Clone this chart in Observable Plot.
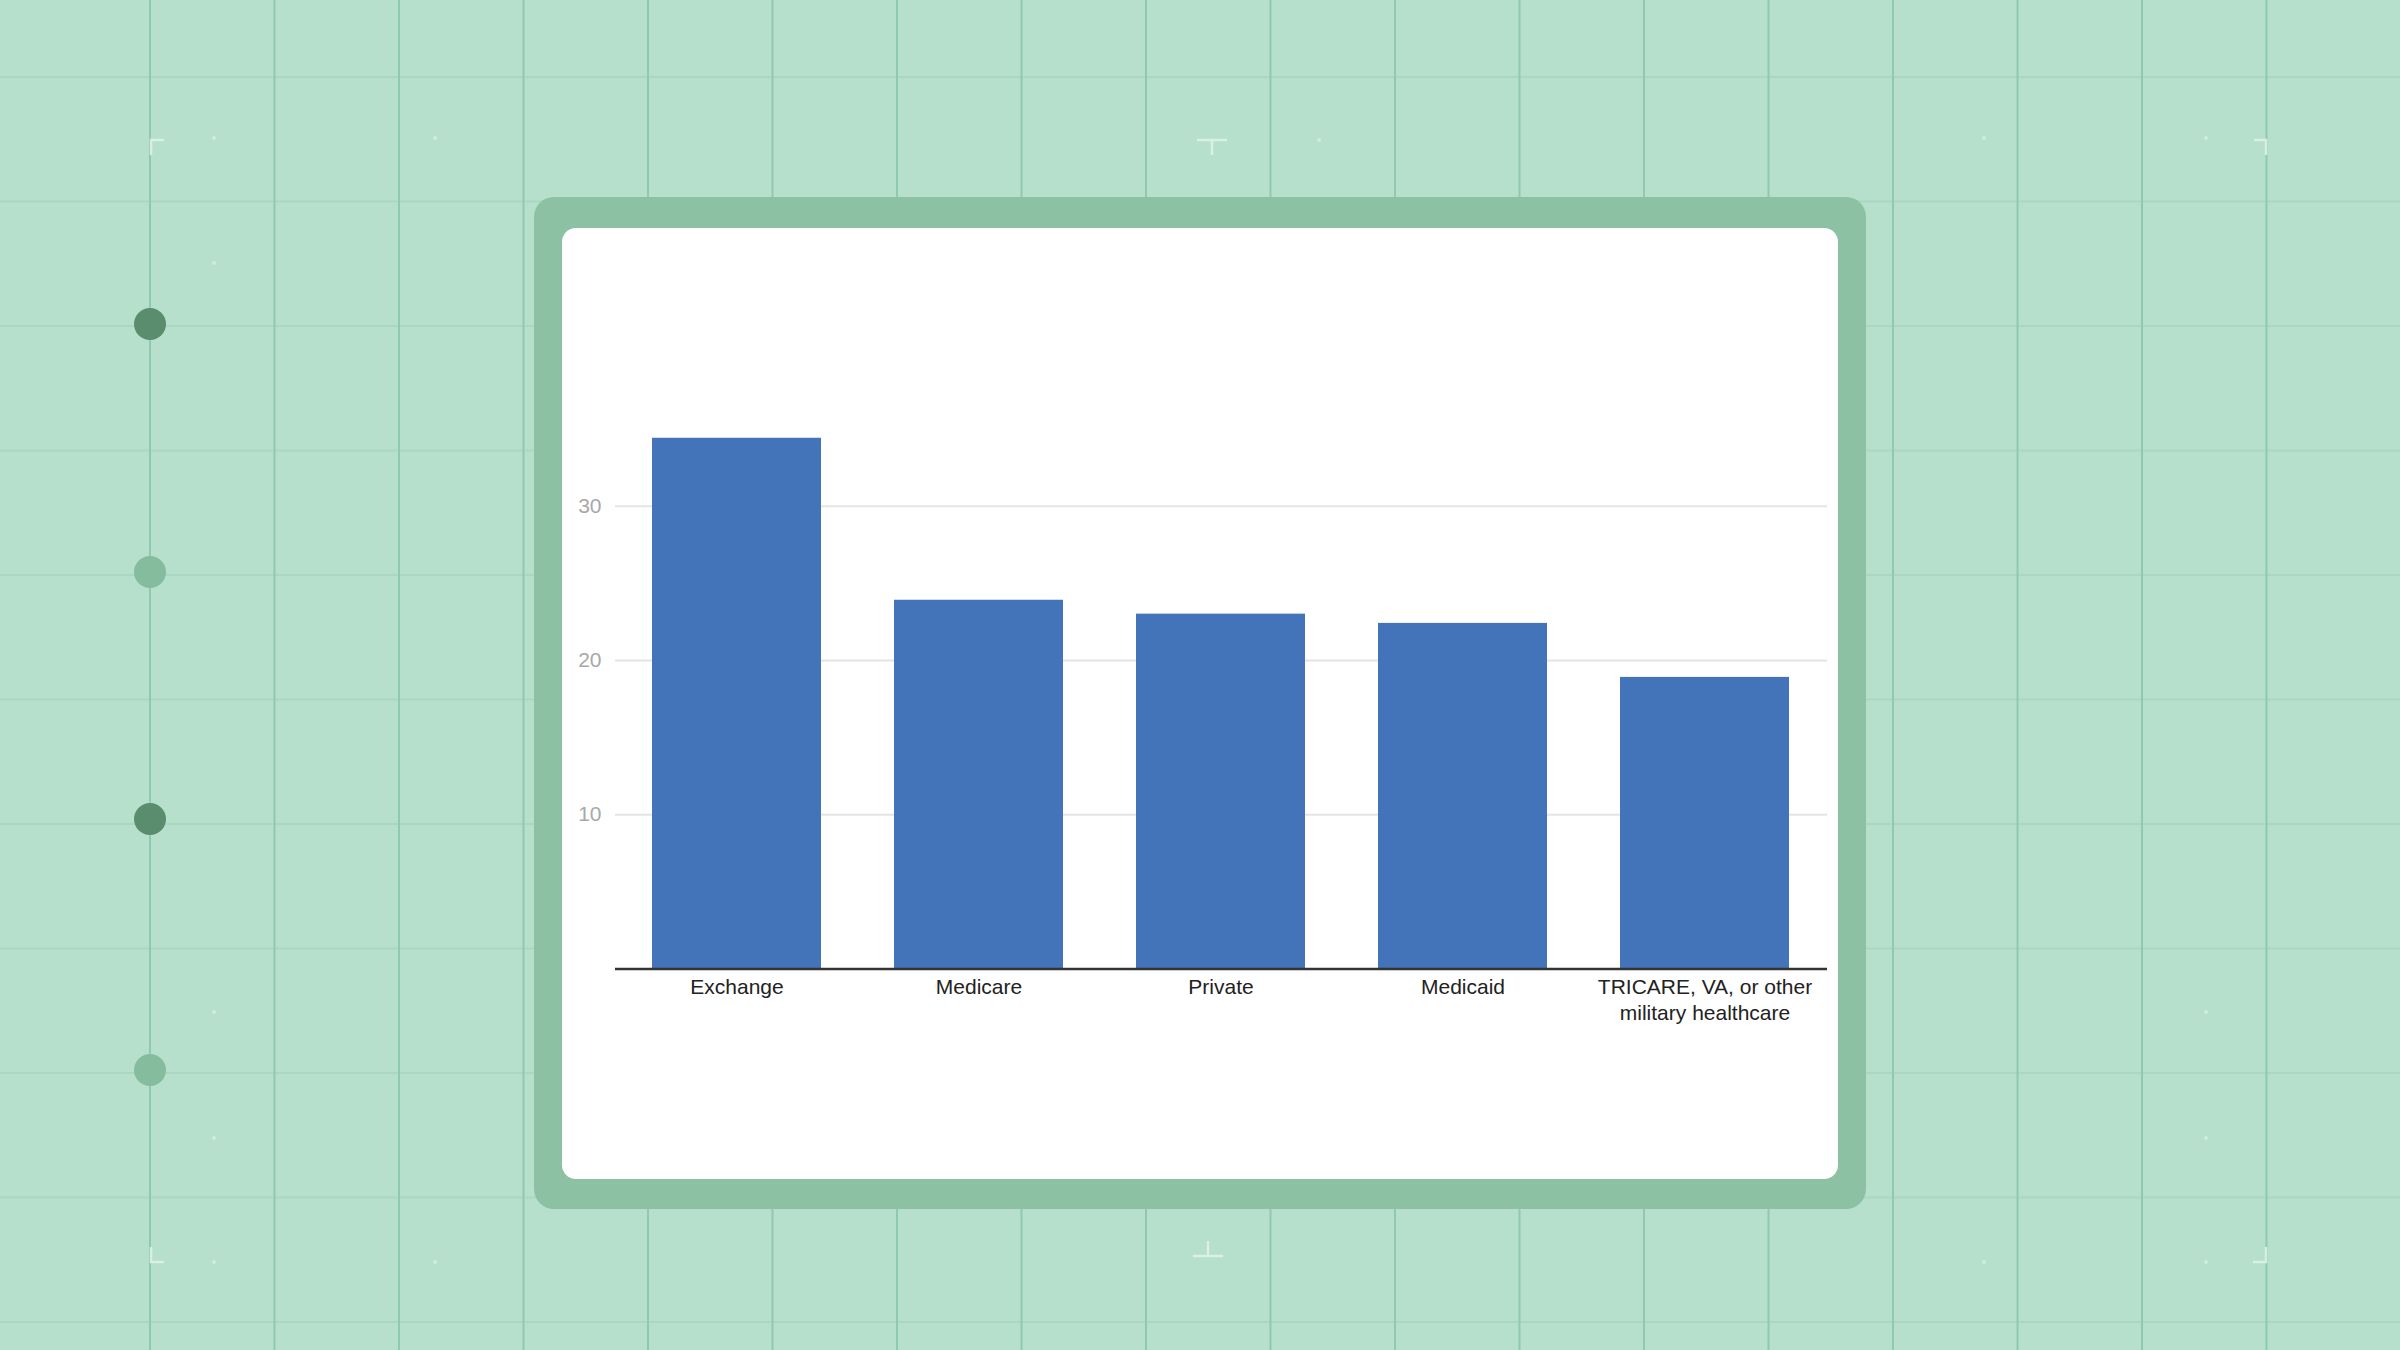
<!DOCTYPE html>
<html>
<head>
<meta charset="utf-8">
<script src="https://cdn.jsdelivr.net/npm/d3@7"></script>
<script src="https://cdn.jsdelivr.net/npm/@observablehq/plot@0.6"></script>
<style>
  html, body { margin: 0; padding: 0; }
  body {
    width: 2400px; height: 1350px; overflow: hidden; position: relative;
    background-color: #b7e0cc;
    background-image: linear-gradient(to bottom, #a9d7c1 0, #a9d7c1 2px, transparent 2px);
    background-size: 124.5px 124.5px;
    background-position: 0 76px;
    font-family: "Liberation Sans", Arial, sans-serif;
  }
  #vlines {
    position: absolute; left: 149px; top: 0; width: 2119px; height: 1350px;
    background-image: linear-gradient(to right, #8fcab0 0, #8fcab0 2px, transparent 2px);
    background-size: 124.5px 100%;
    background-position: 0 0;
  }
  #deco { position: absolute; left: 0; top: 0; }
  #frame {
    position: absolute; left: 534px; top: 197px; width: 1332px; height: 1012px;
    background: #8cc2a3; border-radius: 20px;
  }
  #card {
    position: absolute; left: 562px; top: 228px; width: 1276px; height: 951px;
    background: #ffffff; border-radius: 14px; overflow: hidden;
  }
</style>
</head>
<body>
<div id="vlines"></div>
<svg id="deco" width="2400" height="1350"></svg>
<div id="frame"></div>
<div id="card"></div>
<script>
// ---- chart data ----
const categories = ["Exchange", "Medicare", "Private", "Medicaid", "TRICARE, VA, or other military healthcare"];
const tickLabels = ["Exchange", "Medicare", "Private", "Medicaid", "TRICARE, VA, or other\nmilitary healthcare"];
const values = [34.4, 23.9, 23.0, 22.4, 18.9];
const yTicks = [10, 20, 30];

const data = categories.map((c, i) => ({category: c, value: values[i]}));
const labelOf = new Map(categories.map((c, i) => [c, tickLabels[i]]));

// ---- decorative background (not data) ----
const deco = d3.select("#deco");
const dots = [[150, 324, "#5a8c6e"], [150, 572, "#84bc9d"], [150, 819, "#5a8c6e"], [150, 1070, "#84bc9d"]];
deco.selectAll("circle.big").data(dots).join("circle")
  .attr("cx", d => d[0]).attr("cy", d => d[1]).attr("r", 16).attr("fill", d => d[2]);
const faint = [[214,138],[214,263],[435,138],[214,1012],[214,1138],[214,1262],[435,1262],[2206,1012],[2206,1138],[2206,1262],[1984,1262],[1319,140],[2206,138],[1984,138]];
deco.selectAll("circle.f").data(faint).join("circle")
  .attr("cx", d => d[0]).attr("cy", d => d[1]).attr("r", 2).attr("fill", "#d6efe2").attr("opacity", 0.8);
const marks = [
  "M164,140 L151,140 L151,155",
  "M151,1247 L151,1262 L164,1262",
  "M2266,1247 L2266,1262 L2253,1262",
  "M2254,140 L2266,140 L2266,155",
  "M1197,140 L1227,140 M1212,140 L1212,155",
  "M1193,1256 L1223,1256 M1208,1256 L1208,1241"
];
deco.selectAll("path").data(marks).join("path")
  .attr("d", d => d).attr("stroke", "#dff3e9").attr("stroke-width", 2.5).attr("fill", "none").attr("opacity", 0.85);

// ---- chart ----
const chart = Plot.plot({
  width: 1276,
  height: 951,
  marginLeft: 53,
  marginRight: 11,
  marginTop: 200.5,
  marginBottom: 210.5,
  style: {background: "transparent", fontFamily: "'Liberation Sans', Arial, sans-serif"},
  x: {domain: categories, paddingInner: 0.3, paddingOuter: 0.15, axis: null, label: null},
  y: {domain: [0, 35], axis: null, label: null},
  marks: [
    Plot.ruleY(yTicks, {stroke: "#e4e4e4", strokeWidth: 2}),
    Plot.barY(data, {x: "category", y: "value", fill: "#4373b9"}),
    Plot.ruleY([0], {stroke: "#333333", strokeWidth: 2.5}),
    Plot.axisY({ticks: yTicks, tickSize: 0, tickPadding: 14, fontSize: 21, color: "#a8a8a8", label: null, tickFormat: d => String(d)}),
    Plot.axisX({tickSize: 0, tickPadding: 6, fontSize: 21, lineHeight: 1.25, color: "#222222", label: null, tickFormat: d => labelOf.get(d)})
  ]
});
document.getElementById("card").appendChild(chart);
</script>
</body>
</html>
